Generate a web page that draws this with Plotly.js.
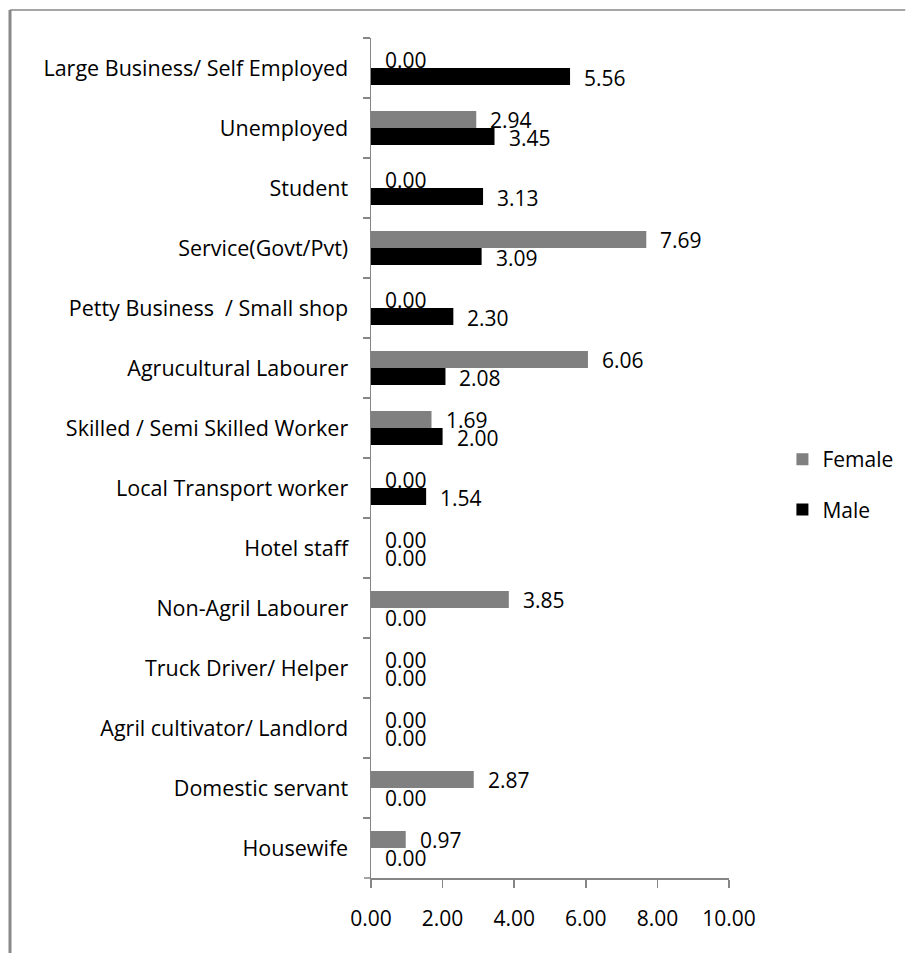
<!DOCTYPE html>
<html>
<head>
<meta charset="utf-8">
<script src="https://cdn.plot.ly/plotly-3.0.1.min.js"></script>
<style>html,body{margin:0;padding:0;background:#fff;}#chart{width:906px;height:953px;}</style>
</head>
<body>
<div id="chart"></div>
<script>
var categories = ["Large Business/ Self Employed","Unemployed","Student","Service(Govt/Pvt)","Petty Business  / Small shop","Agrucultural Labourer","Skilled / Semi Skilled Worker","Local Transport worker","Hotel staff","Non-Agril Labourer","Truck Driver/ Helper","Agril cultivator/ Landlord","Domestic servant","Housewife"];
var female = [0.00,2.94,0.00,7.69,0.00,6.06,1.69,0.00,0.00,3.85,0.00,0.00,2.87,0.97];
var male = [5.56,3.45,3.13,3.09,2.30,2.08,2.00,1.54,0.00,0.00,0.00,0.00,0.00,0.00];
var tickValues = [0,2,4,6,8,10];

var FONT = "Open Sans";
var annotations = [];
categories.forEach(function(c,i){
  annotations.push({x:female[i], y:c, xref:'x', yref:'y', text:female[i].toFixed(2), showarrow:false, xanchor:'left', yanchor:'middle', xshift:12, yshift:8, font:{family:FONT,size:21,color:'#000'}});
  annotations.push({x:male[i], y:c, xref:'x', yref:'y', text:male[i].toFixed(2), showarrow:false, xanchor:'left', yanchor:'middle', xshift:12, yshift:-9.5, font:{family:FONT,size:21,color:'#000'}});
});

var L=371, R=729.5, T=38, B=878;
function px2x(p){return (p-L)/(R-L);}
function py2y(p){return (B-p)/(B-T);}

var data = [
  {type:'bar', orientation:'h', name:'Female', y:categories, x:female, marker:{color:'#808080'}, legendgroup:'f', hoverinfo:'x+y'},
  {type:'bar', orientation:'h', name:'Male', y:categories, x:male, marker:{color:'#000000'}, legendgroup:'m', hoverinfo:'x+y'}
];
var layout = {
  width:906, height:953,
  margin:{l:L, r:906-R, t:T, b:953-B, pad:0, autoexpand:false},
  paper_bgcolor:'#fff', plot_bgcolor:'#fff',
  barmode:'group', bargap:0.433, bargroupgap:0,
  font:{family:FONT, size:21, color:'#000'},
  showlegend:true,
  legend:{x:px2x(783), y:py2y(439), xanchor:'left', yanchor:'top', traceorder:'grouped', tracegroupgap:20, font:{family:FONT,size:21,color:'#000'}, bgcolor:'rgba(0,0,0,0)'},
  xaxis:{range:[0,10], automargin:false, tickvals:tickValues, ticktext:tickValues.map(function(v){return v.toFixed(2);}), showgrid:false, zeroline:false, showline:true, linecolor:'#868686', linewidth:1.5, ticks:'outside', ticklen:8, tickcolor:'#868686', tickwidth:1.5, ticklabelstandoff:13, tickfont:{family:FONT,size:21,color:'#000'}, fixedrange:true},
  yaxis:{type:'category', automargin:false, autorange:'reversed', showgrid:false, zeroline:false, showline:true, linecolor:'#868686', linewidth:1.5, ticks:'outside', ticklen:7, tickcolor:'#868686', tickwidth:1.5, ticklabelstandoff:17, tickfont:{family:FONT,size:21.5,color:'#000'}, tickson:'boundaries', fixedrange:true},
  annotations:annotations,
  shapes:[
    {type:'line', xref:'paper', yref:'paper', x0:px2x(9.5), x1:px2x(906), y0:py2y(10), y1:py2y(10), line:{color:'#888888', width:1.5}},
    {type:'line', xref:'paper', yref:'paper', x0:px2x(9.5), x1:px2x(9.5), y0:py2y(10), y1:py2y(953), line:{color:'#888888', width:3}},
    {type:'line', xref:'paper', yref:'paper', x0:px2x(364), x1:px2x(371), y0:0, y1:0, line:{color:'#868686', width:1.5}}
  ]
};
Plotly.newPlot('chart', data, layout, {displayModeBar:false, staticPlot:true});
</script>
</body>
</html>
